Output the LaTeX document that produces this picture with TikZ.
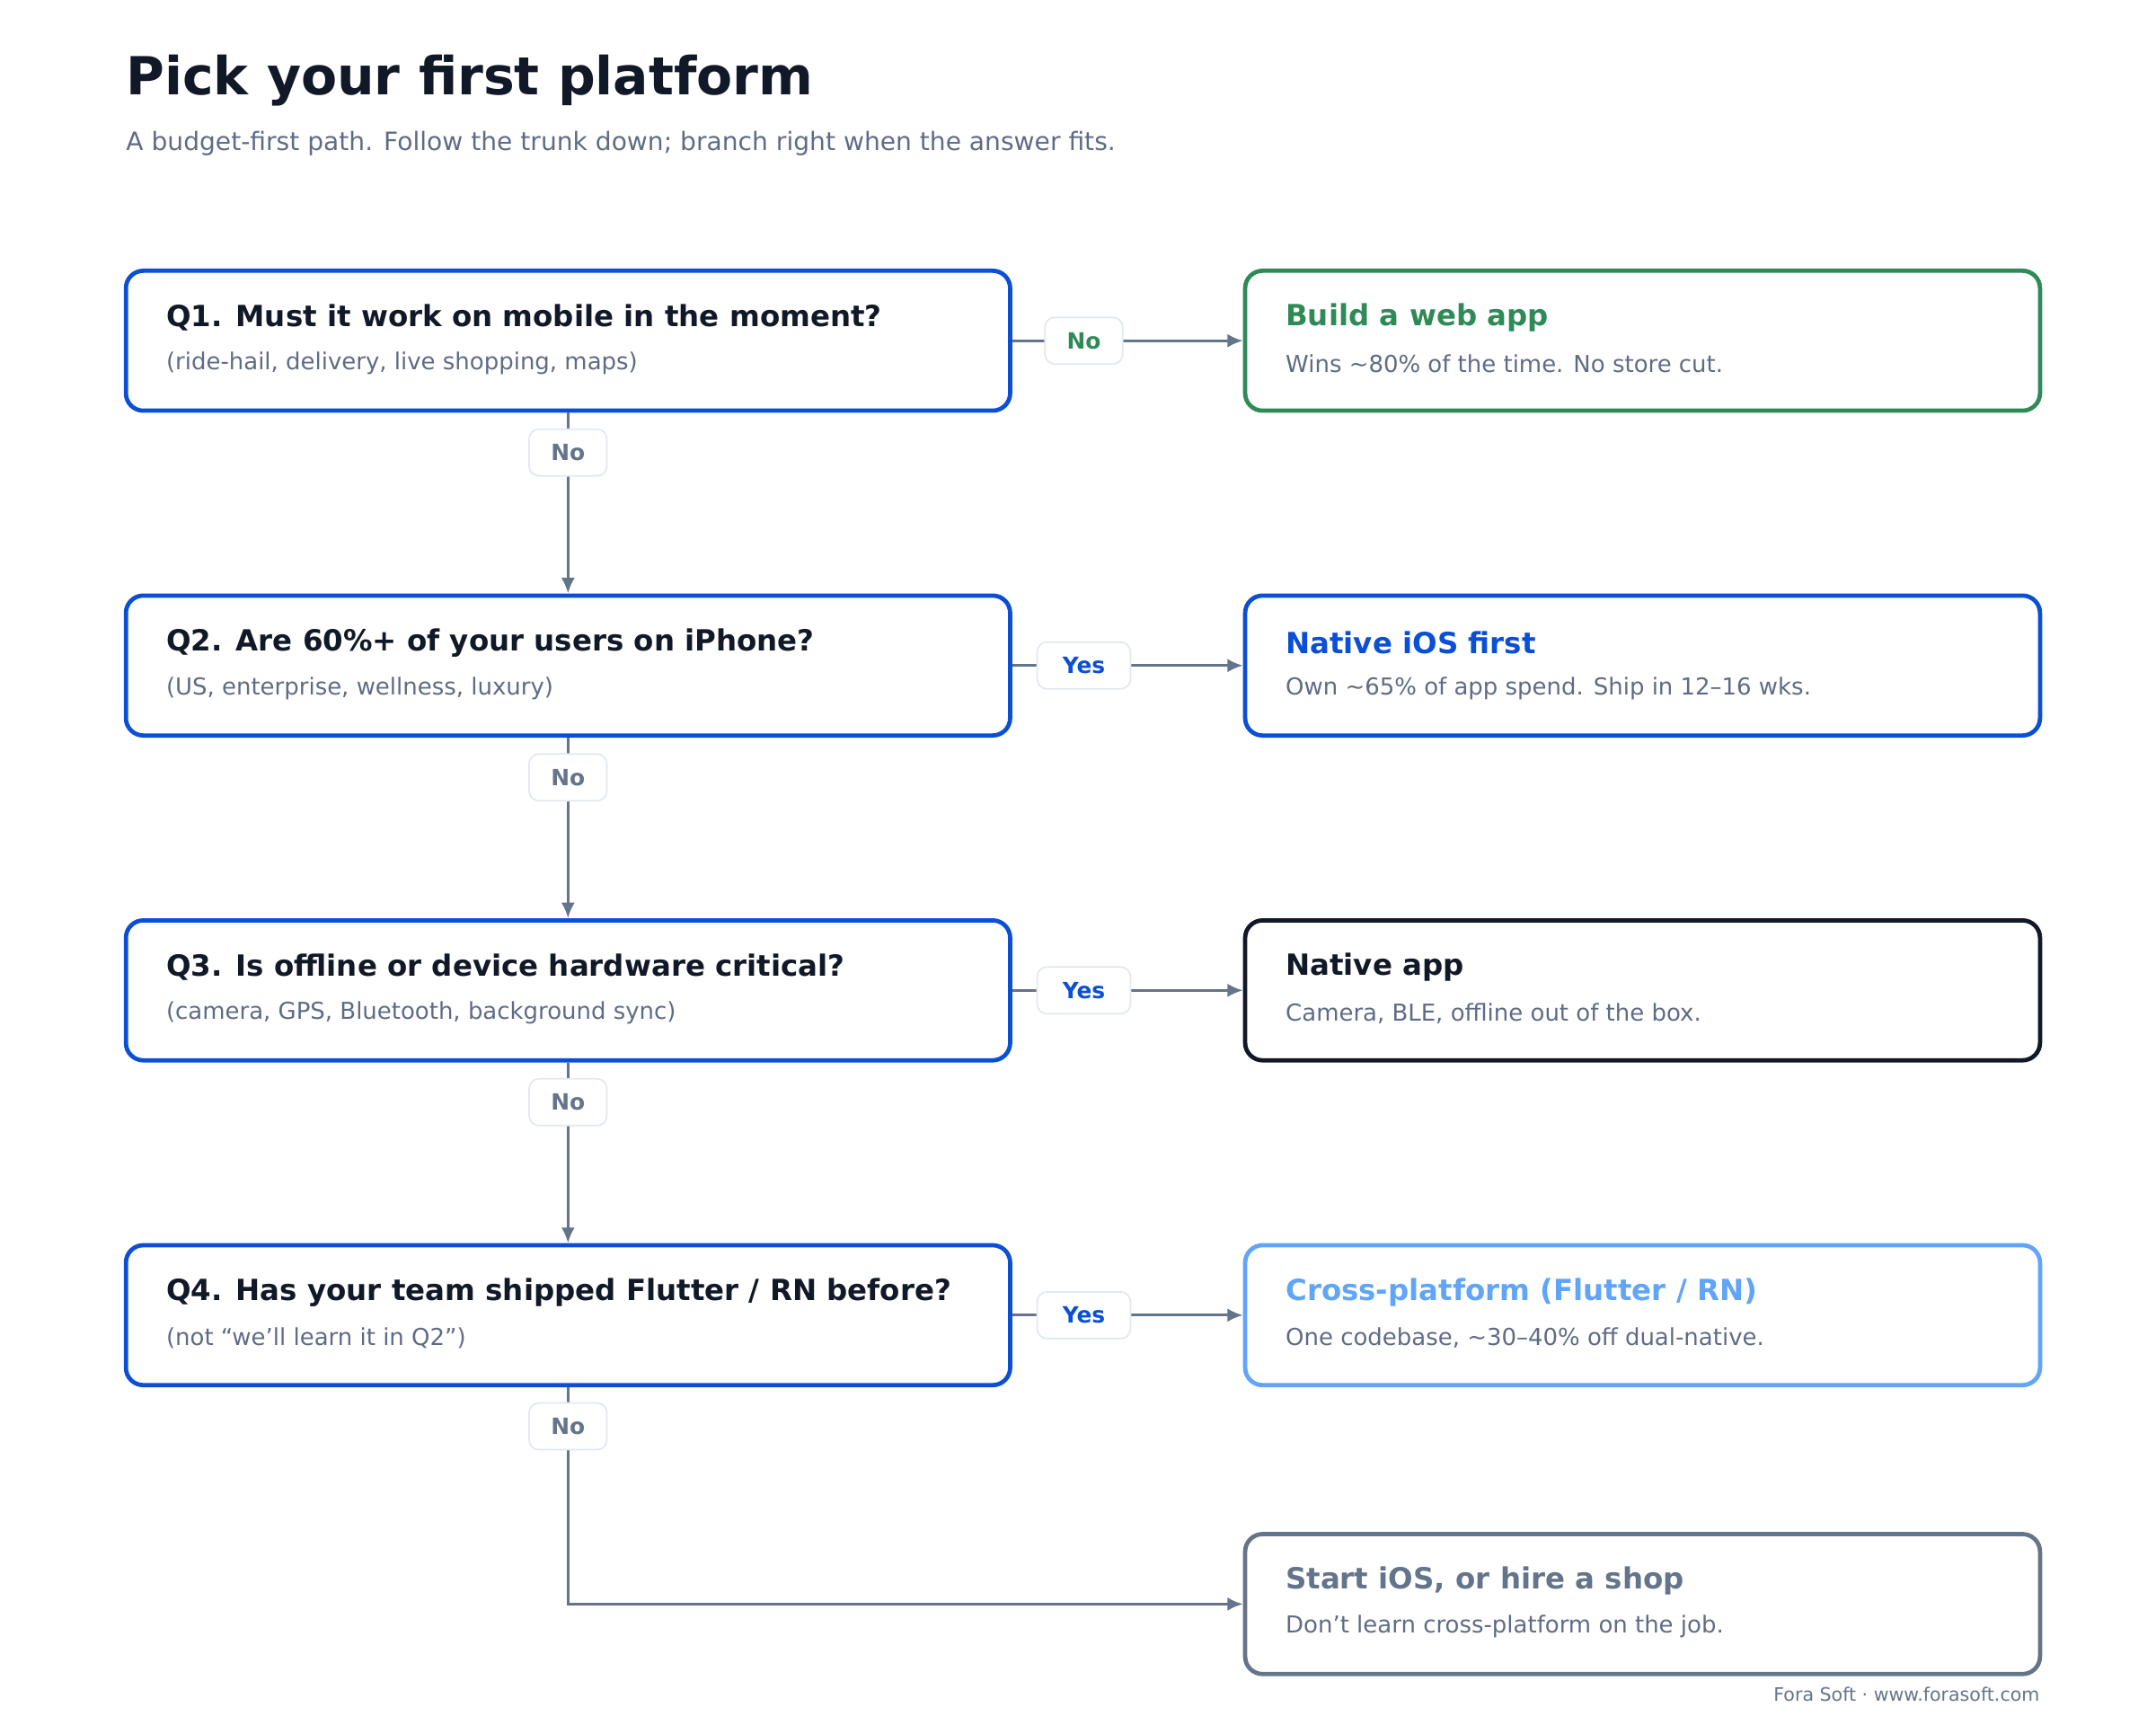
\documentclass[tikz,border=0pt]{standalone}
\usepackage{fontspec}
\setmainfont{DejaVu Sans}
\usetikzlibrary{arrows.meta,positioning}
\definecolor{ink}{HTML}{111827}
\definecolor{muted}{HTML}{5F6B85}
\definecolor{qblue}{HTML}{0B4FD6}
\definecolor{okgreen}{HTML}{2E8B57}
\definecolor{skyblue}{HTML}{60A5FA}
\definecolor{slate}{HTML}{64748B}
\definecolor{pill}{HTML}{E2E8F0}
\tikzset{
  box/.style={draw=#1, line width=2.2pt, rounded corners=9pt, minimum width=455pt, minimum height=72pt, inner sep=0pt},
  rbox/.style={draw=#1, line width=2.2pt, rounded corners=9pt, minimum width=409pt, minimum height=72pt, inner sep=0pt},
  head/.style={anchor=west, font=\fontsize{15}{18}\selectfont\bfseries, text=#1, inner sep=0pt},
  note/.style={anchor=west, font=\fontsize{12}{14}\selectfont, text=muted, inner sep=0pt},
  tag/.style={draw=pill, fill=white, line width=0.8pt, rounded corners=5pt, minimum width=40pt, minimum height=24pt, inner sep=0pt, font=\fontsize{11.5}{13}\selectfont\bfseries, text=#1},
  link/.style={draw=slate, line width=1.4pt, -{Latex[length=8pt,width=7pt]}}
}
\begin{document}
\begin{tikzpicture}[x=0.025cm,y=-0.025cm]
\useasboundingbox (0,0) rectangle (1560,1248);

\node[anchor=west, inner sep=0pt, font=\fontsize{27}{32}\selectfont\bfseries, text=ink] (title) at (91,58) {Pick your first platform};
\node[anchor=west, inner sep=0pt, font=\fontsize{13}{16}\selectfont, text=muted] (subtitle) at (91,104) {A budget-first path. Follow the trunk down; branch right when the answer fits.};

% questions
\node[box=qblue] (q1) at (411,246.5) {};
\node[box=qblue] (q2) at (411,481.5) {};
\node[box=qblue] (q3) at (411,716.5) {};
\node[box=qblue] (q4) at (411,951.5) {};

% outcomes
\node[rbox=okgreen] (a1) at (1188.5,246.5) {};
\node[rbox=qblue] (a2) at (1188.5,481.5) {};
\node[rbox=ink] (a3) at (1188.5,716.5) {};
\node[rbox=skyblue] (a4) at (1188.5,951.5) {};
\node[rbox=slate] (a5) at (1188.5,1160.5) {};

\node[head=ink] (q1h) at (120,230) {Q1. Must it work on mobile in the moment?};
\node[note] (q1n) at (120,263) {(ride-hail, delivery, live shopping, maps)};
\node[head=ink] (q2h) at (120,465) {Q2. Are 60\%+ of your users on iPhone?};
\node[note] (q2n) at (120,498) {(US, enterprise, wellness, luxury)};
\node[head=ink] (q3h) at (120,700) {Q3. Is offline or device hardware critical?};
\node[note] (q3n) at (120,733) {(camera, GPS, Bluetooth, background sync)};
\node[head=ink] (q4h) at (120,935) {Q4. Has your team shipped Flutter / RN before?};
\node[note] (q4n) at (120,968) {(not “we’ll learn it in Q2”)};

\node[head=okgreen] (a1h) at (930,230) {Build a web app};
\node[note] (a1n) at (930,263) {Wins \textasciitilde80\% of the time. No store cut.};
\node[head=qblue] (a2h) at (930,465) {Native iOS first};
\node[note] (a2n) at (930,498) {Own \textasciitilde65\% of app spend. Ship in 12–16 wks.};
\node[head=ink] (a3h) at (930,700) {Native app};
\node[note] (a3n) at (930,733) {Camera, BLE, offline out of the box.};
\node[head=skyblue] (a4h) at (930,935) {Cross-platform (Flutter / RN)};
\node[note] (a4n) at (930,968) {One codebase, \textasciitilde30–40\% off dual-native.};
\node[head=slate] (a5h) at (930,1144) {Start iOS, or hire a shop};
\node[note] (a5n) at (930,1177) {Don’t learn cross-platform on the job.};

% branches right
\draw[link] (q1.east) -- node[tag=okgreen, pos=0.31] (t1) {No} (a1.west);
\draw[link] (q2.east) -- node[tag=qblue, pos=0.31, minimum width=48pt] (t2) {Yes} (a2.west);
\draw[link] (q3.east) -- node[tag=qblue, pos=0.31, minimum width=48pt] (t3) {Yes} (a3.west);
\draw[link] (q4.east) -- node[tag=qblue, pos=0.31, minimum width=48pt] (t4) {Yes} (a4.west);

% trunk
\draw[link] (q1.south) -- node[tag=slate, pos=0.22] (n1) {No} (q2.north);
\draw[link] (q2.south) -- node[tag=slate, pos=0.22] (n2) {No} (q3.north);
\draw[link] (q3.south) -- node[tag=slate, pos=0.22] (n3) {No} (q4.north);
\draw[link] (q4.south) |- node[tag=slate, pos=0.09] (n4) {No} (a5.west);

\node[anchor=east, inner sep=0pt, font=\fontsize{9.5}{11}\selectfont, text=slate] (credit) at (1476,1226) {Fora Soft · www.forasoft.com};
\end{tikzpicture}
\end{document}
